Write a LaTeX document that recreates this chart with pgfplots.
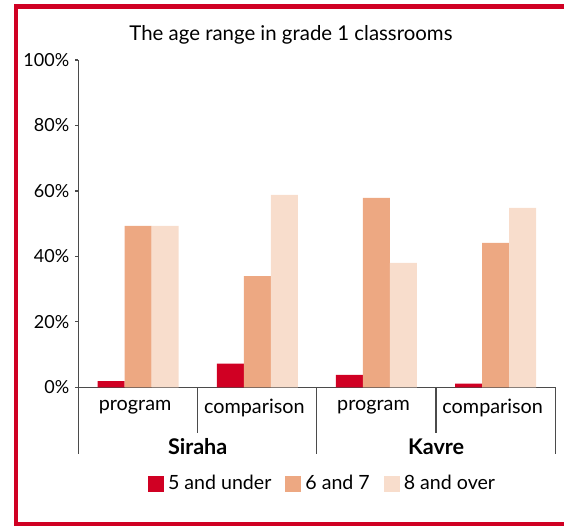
\documentclass[border=0pt]{standalone}
\usepackage{fontspec}
\setmainfont{Lato}
\usepackage{pgfplots}
\pgfplotsset{compat=1.18}
\definecolor{cRed}{RGB}{208,0,35}
\definecolor{cOrange}{RGB}{237,168,130}
\definecolor{cLight}{RGB}{248,221,204}
\definecolor{cAxis}{RGB}{75,75,75}
\begin{document}
\begin{tikzpicture}
\useasboundingbox (0,0) rectangle (282pt,-263pt);
% red frame
\fill[cRed] (6.75pt,-1.75pt) rectangle (282pt,-4.25pt);
\fill[cRed] (6.75pt,-1.75pt) rectangle (9pt,-262.5pt);
\fill[cRed] (6.75pt,-260.85pt) rectangle (282pt,-262.8pt);
% title
\node[anchor=base, font=\fontsize{10.2}{12}\selectfont] at (145.5pt,-20.35pt) {The age range in grade 1 classrooms};
\begin{axis}[
  at={(39.25pt,-193.65pt)}, anchor=south west,
  scale only axis, width=238.4pt, height=163.65pt,
  ybar=0pt, bar width=0.2265,
  xmin=-0.5, xmax=3.5, ymin=0, ymax=100,
  axis lines*=left,
  axis line style={cAxis, line width=0.6pt},
  clip=false,
  xtick={0,1,2,3},
  xticklabels={program,comparison,program,comparison},
  x tick style={draw=none},
  xticklabel style={anchor=center, yshift=-8.5pt, xshift=-1.5pt, font=\fontsize{9.9}{12}\selectfont},
  ytick={0,20,40,60,80,100},
  yticklabel={\pgfmathprintnumber{\tick}\%},
  /pgf/number format/assume math mode=true,
  tick align=outside,
  y tick style={cAxis, line width=0.6pt},
  major tick length=1.6pt,
  yticklabel style={anchor=east, xshift=0.5pt, font=\fontsize{9}{11}\selectfont},
  legend columns=3,
  legend style={draw=none, at={(0.514,-0.2954)}, anchor=center,
    font=\fontsize{9.8}{12}\selectfont,
    /tikz/every even column/.append style={column sep=5pt}},
  legend image code/.code={\fill[#1] (-3pt,-4pt) rectangle (5pt,4pt);},
]
\addplot[fill=cRed, draw=none] coordinates {(0,1.9) (1,7.2) (2,3.8) (3,1.1)};
\addplot[fill=cOrange, draw=none] coordinates {(0,49.3) (1,34.0) (2,57.9) (3,44.1)};
\addplot[fill=cLight, draw=none] coordinates {(0,49.3) (1,58.8) (2,38.0) (3,54.8)};
\legend{5 and under, 6 and 7, 8 and over}
\draw[cAxis, line width=0.6pt] (axis cs:0.5,0) -- ++(0pt,-23pt);
\draw[cAxis, line width=0.6pt] (axis cs:2.5,0) -- ++(0pt,-23pt);
\draw[cAxis, line width=0.6pt] (axis cs:-0.5,0) -- ++(0pt,-33.5pt);
\draw[cAxis, line width=0.6pt] (axis cs:1.5,0) -- ++(0pt,-33.5pt);
\draw[cAxis, line width=0.6pt] (axis cs:3.5,0) -- ++(0pt,-33.5pt);
\node[font=\fontsize{10.8}{13}\selectfont\bfseries] at (axis cs:0.5,0) [yshift=-29.85pt] {Siraha};
\node[font=\fontsize{10.8}{13}\selectfont\bfseries] at (axis cs:2.5,0) [yshift=-29.85pt] {Kavre};
\end{axis}
\end{tikzpicture}
\end{document}
